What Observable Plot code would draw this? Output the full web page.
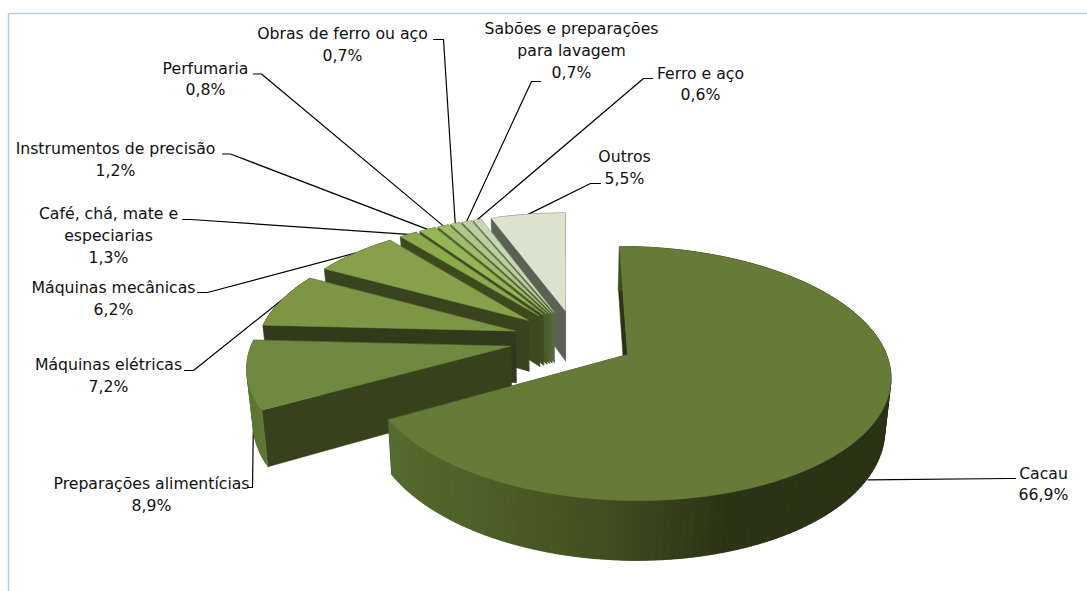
<!DOCTYPE html>
<html>
<head>
<meta charset="utf-8">
<style>html,body{margin:0;padding:0;background:#fff}svg{display:block}</style>
<script src="https://cdn.jsdelivr.net/npm/d3@7"></script>
<script src="https://cdn.jsdelivr.net/npm/@observablehq/plot@0.6"></script>
</head>
<body>
<div id="chart"></div>
<script>
// --- data
const names = ["Cacau","Preparações alimentícias","Máquinas elétricas","Máquinas mecânicas","Café, chá, mate e\nespeciarias","Instrumentos de precisão","Perfumaria","Obras de ferro ou aço","Sabões e preparações\npara lavagem","Ferro e aço","Outros"];
const values = [66.9,8.9,7.2,6.2,1.3,1.2,0.8,0.7,0.7,0.6,5.5];
// --- colours
const topColors = ["#667B38","#6F8A40","#7C9646","#86A04B","#8CA94E","#95B657","#9FBB6B","#AEC68A","#BBCE9F","#C8D7B3","#DBE3CE"];
const wallColors = ["#2A3315","#37421C","#333A1B","#39431D","#3C4A1E","#404D20","#4A5C2A","#4E5F30","#54643A","#586A40","#5C6156"];
// --- label layout (text block centre, leader start, leader elbow)
const labelX = [1043,151,108,113,108,115,205,342,571,700,624];
const labelY = [483.5,494,375,298,235,159,78.5,44,50,83.5,167].map(y => y - 1.5);
const leaderStart = [[1015,478],[248,487],[184,370],[197,292],[182,219],[222,153.5],[253,73.5],[433,39],[540,81],[652,78],[600,183]];
const leaderElbow = [[1008,478],[252,487],[193,370],[207,292],[190,219],[230,153.5],[261,73.5],[443,39],[531,81],[643,78],[590,183]];
const leaderDepth = [1,1,0,0,0,0,0,0,0,0,0];

// --- 3D pie projection
const VX = 566, Y0 = 354, A = 124.2, K = 0.1497, H = 53, M = 0.02;
const widths = [259,262,262,262,262,262,262,262,262,262,262];
const depths = [0.96,1,1,1,1,1,1,1,1,1,1];
const pulls = [0.25,0.262,0.25,0.25,0.25,0.25,0.25,0.25,0.25,0.25,0.25];
const center = [0.0385, 0.1265], cacauApex = [0.2355, 0];
const project = (i, wx, wy, z = 0) => {
  const f = 1 / (1 + K * wy);
  return {x: VX + widths[i] * wx * f * (1 - M * z), y: Y0 - A * wy * f + H * z * f};
};
const total = d3.sum(values);
let cum = 0;
const slices = values.map((v, i) => {
  const a0 = cum / total * 2 * Math.PI; cum += v;
  const a1 = cum / total * 2 * Math.PI, mid = (a0 + a1) / 2;
  const apex = i === 0 ? cacauApex : [center[0] + pulls[i] * Math.sin(mid), center[1] + pulls[i] * Math.cos(mid)];
  return {i, a0, a1, mid, apex};
});
const arcPt = (s, t) => [s.apex[0] + Math.sin(t), s.apex[1] + Math.cos(t)];
const cacauShade = d3.scaleLinear().domain([390, 470, 613, 730, 900]).range(["#566B2E", "#4F6229", "#404E20", "#2B3416", "#2A3315"]).clamp(true);
const polys = [];
const add = (id, pts, fill) => pts.forEach(p => polys.push({id, x: p.x, y: p.y, fill}));
const order = [10,9,8,7,6,5,4,3,2,1,0];
for (const i of order) {
  const s = slices[i], d = depths[i];
  const P = (w, z = 0) => project(i, w[0], w[1], z * d);
  const n = Math.max(2, Math.ceil((s.a1 - s.a0) / (Math.PI / 120)));
  const ts = d3.range(n + 1).map(j => s.a0 + (s.a1 - s.a0) * j / n);
  const e0 = arcPt(s, s.a0), e1 = arcPt(s, s.a1);
  add(`w0-${i}`, [P(s.apex), P(e0), P(e0, 1), P(s.apex, 1)], wallColors[i]);
  add(`w1-${i}`, [P(s.apex), P(e1), P(e1, 1), P(s.apex, 1)], wallColors[i]);
  // outer wall: each quad reaches over the next one so no seams show
  for (let j = 0; j < n; j++) {
    const p = arcPt(s, ts[j]), q = arcPt(s, ts[Math.min(n, j + 2)]);
    const c = i === 0 ? cacauShade(P(p).x) : (i === 1 ? "#5F7634" : wallColors[i]);
    add(`a-${i}-${j}`, [P(p), P(q), P(q, 1), P(p, 1)], c);
  }
  add(`t-${i}`, [P(s.apex), ...ts.map(t => P(arcPt(s, t)))], topColors[i]);
}
// leaders
const leaders = [];
slices.forEach((s, i) => {
  const w = arcPt(s, s.mid);
  const end = project(i, w[0], w[1], leaderDepth[i]);
  [{x: leaderStart[i][0], y: leaderStart[i][1]}, {x: leaderElbow[i][0], y: leaderElbow[i][1]}, end]
    .forEach(p => leaders.push({id: i, ...p}));
});
const labels = names.map((n, i) => ({
  text: `${n}\n${values[i].toFixed(1).replace(".", ",")}%`, x: labelX[i], y: labelY[i]
}));

const chart = Plot.plot({
  width: 1087, height: 591, margin: 0,
  x: {domain: [0, 1087], range: [0, 1087], axis: null},
  y: {domain: [0, 591], range: [0, 591], axis: null},
  color: {type: "identity"},
  style: {background: "#fff"},
  marks: [
    Plot.ruleX([8], {y1: 13, y2: 591, stroke: "#B9CDE5", strokeWidth: 1.5}),
    Plot.ruleY([13], {x1: 8, x2: 1087, stroke: "#B9CDE5", strokeWidth: 1.5}),
    Plot.line(leaders, {x: "x", y: "y", z: "id", stroke: "#000", strokeWidth: 1.2, curve: "linear"}),
    Plot.line(polys, {x: "x", y: "y", z: "id", fill: "fill", stroke: "fill", strokeWidth: 0.5, curve: "linear-closed"}),
    Plot.text(labels, {x: "x", y: "y", text: "text", fontSize: 15.7, lineHeight: 1.39, textAnchor: "middle", lineAnchor: "middle", fontFamily: "'DejaVu Sans'", fill: "#111"})
  ]
});
document.getElementById("chart").appendChild(chart);
</script>
</body>
</html>
